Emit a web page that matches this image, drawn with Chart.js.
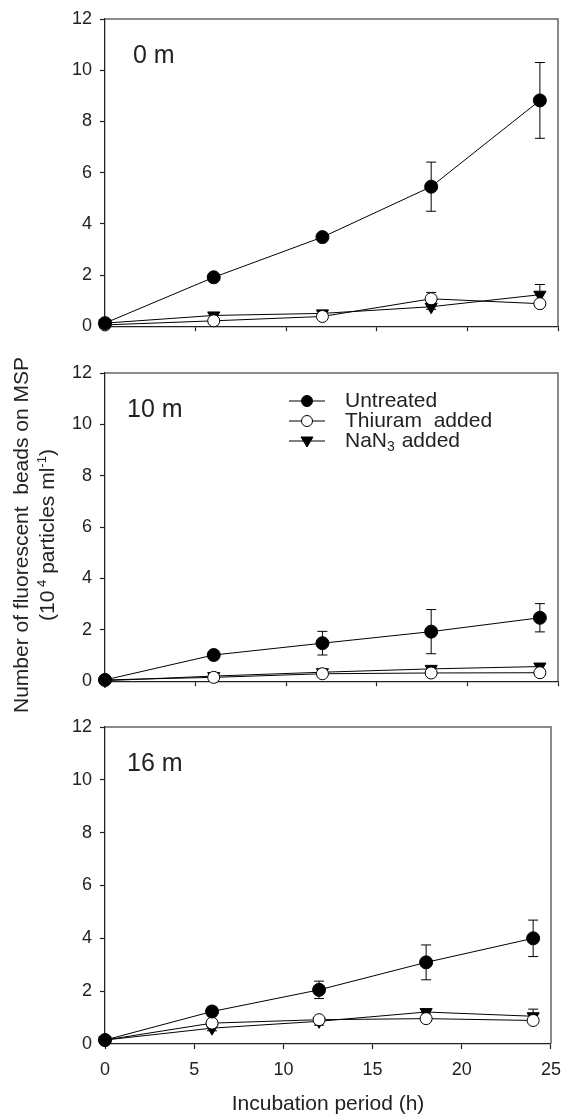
<!DOCTYPE html>
<html lang="en">
<head>
<meta charset="UTF-8">
<title>Fluorescent beads on MSP</title>
<script src="https://cdn.jsdelivr.net/npm/chart.js@4.4.1/dist/chart.umd.min.js"></script>
<style>
  body { margin: 0; background: #fff; font-family: "Liberation Sans", Arial, sans-serif; }
  #wrap { position: relative; width: 571px; height: 1119px; overflow: hidden; }
  canvas { position: absolute; left: 0; }
  #ytitle {
    position: absolute; width: 440px; height: 54px; left: -185px; top: 508px;
    transform: rotate(-90deg); text-align: center;
    font-size: 21px; line-height: 26px; color: #222; white-space: pre;
  }
  #ytitle sup { font-size: 0.62em; vertical-align: super; line-height: 0; }
</style>
</head>
<body>
<div id="wrap">
  <canvas id="c1" width="571" height="345" style="top:0px"></canvas>
  <canvas id="c2" width="571" height="355" style="top:345px"></canvas>
  <canvas id="c3" width="571" height="419" style="top:700px"></canvas>
  <div id="ytitle">Number of fluorescent  beads on MSP
(10<sup> 4</sup> particles ml<sup>-1</sup>)</div>
</div>

<script>
const hours = [0, 6, 12, 18, 24];
const seriesNames = ["Untreated", "Thiuram  added", "NaN3 added"];
const depthLabels = ["0 m", "10 m", "16 m"];
const xTitle = "Incubation period (h)";

// 0 m
const untreated0 = [0.12, 1.91, 3.48, 5.45, 8.82];
const untreated0Err = [0, 0.08, 0.12, 0.96, 1.48];
const thiuram0 = [0.05, 0.21, 0.38, 1.07, 0.88];
const thiuram0Err = [0, 0.05, 0.08, 0.25, 0.1];
const nan0 = [0.12, 0.42, 0.5, 0.76, 1.23];
const nan0Err = [0, 0.1, 0.12, 0.1, 0.4];

// 10 m
const untreated10 = [0.05, 1.02, 1.48, 1.93, 2.47];
const untreated10Err = [0, 0.05, 0.46, 0.86, 0.55];
const thiuram10 = [0.05, 0.15, 0.29, 0.32, 0.33];
const thiuram10Err = [0, 0, 0.05, 0.05, 0.05];
const nan10 = [0.02, 0.2, 0.35, 0.48, 0.57];
const nan10Err = [0, 0.05, 0.05, 0.05, 0.1];

// 16 m
const untreated16 = [0.15, 1.23, 2.05, 3.09, 4.0];
const untreated16Err = [0, 0.17, 0.33, 0.66, 0.69];
const thiuram16 = [0.15, 0.79, 0.92, 0.96, 0.89];
const thiuram16Err = [0, 0.05, 0.08, 0.05, 0.05];
const nan16 = [0.15, 0.6, 0.86, 1.21, 1.05];
const nan16Err = [0, 0.1, 0.15, 0.08, 0.27];

const INK = "#222";

function pts(vals) {
  return hours.map((h, i) => ({ x: h, y: vals[i] }));
}

function makeDatasets(u, uE, t, tE, n, nE) {
  const base = { showLine: true, borderColor: "#000", borderWidth: 1, clip: false,
                 pointBorderColor: "#000", pointBorderWidth: 1 };
  return [
    Object.assign({}, base, { label: seriesNames[0], data: pts(u), errors: uE,
      pointStyle: "circle", pointRadius: 6.5, pointBackgroundColor: "#000" }),
    Object.assign({}, base, { label: seriesNames[1], data: pts(t), errors: tE,
      pointStyle: "circle", pointRadius: 6, pointBackgroundColor: "#fff" }),
    Object.assign({}, base, { label: seriesNames[2], data: pts(n), errors: nE,
      pointStyle: "triangle", pointRotation: 180, pointRadius: 7, pointBackgroundColor: "#000" })
  ];
}

// error bars drawn through the chart scales
const errorBars = {
  id: "errorBars",
  beforeDatasetsDraw(chart) {
    const ctx = chart.ctx, xs = chart.scales.x, ys = chart.scales.y;
    ctx.save();
    ctx.strokeStyle = "#000";
    ctx.lineWidth = 1;
    chart.data.datasets.forEach(ds => {
      ds.data.forEach((p, i) => {
        const e = ds.errors[i];
        if (!e) return;
        const x = xs.getPixelForValue(p.x);
        const y1 = ys.getPixelForValue(p.y + e), y2 = ys.getPixelForValue(p.y - e);
        ctx.beginPath();
        ctx.moveTo(x, y1); ctx.lineTo(x, y2);
        ctx.moveTo(x - 5, y1); ctx.lineTo(x + 5, y1);
        ctx.moveTo(x - 5, y2); ctx.lineTo(x + 5, y2);
        ctx.stroke();
      });
    });
    ctx.restore();
  }
};

// top and right frame + depth label
const frame = {
  id: "frame",
  afterDraw(chart, args, opts) {
    const { ctx, chartArea: a } = chart;
    ctx.save();
    ctx.strokeStyle = "#666";
    ctx.lineWidth = 1.5;
    ctx.beginPath();
    ctx.moveTo(a.left, a.top); ctx.lineTo(a.right, a.top); ctx.lineTo(a.right, a.bottom);
    ctx.stroke();
    ctx.fillStyle = INK;
    ctx.font = "25px 'Liberation Sans', Arial, sans-serif";
    ctx.textBaseline = "middle";
    ctx.fillText(opts.label, opts.labelX, a.top + 37);
    ctx.restore();
  }
};

function marker(ctx, style, x, y) {
  ctx.beginPath();
  if (style === "triangle") {
    ctx.moveTo(x - 6, y - 4); ctx.lineTo(x + 6, y - 4); ctx.lineTo(x, y + 6);
    ctx.closePath();
  } else {
    ctx.arc(x, y, 5.5, 0, Math.PI * 2);
  }
  ctx.fill(); ctx.stroke();
}

const legendBox = {
  id: "legendBox",
  afterDraw(chart, args, opts) {
    if (!opts.show) return;
    const ctx = chart.ctx;
    const rows = [56, 76, 96];
    ctx.save();
    ctx.strokeStyle = "#000";
    ctx.lineWidth = 1;
    chart.data.datasets.forEach((ds, i) => {
      const y = rows[i];
      ctx.beginPath(); ctx.moveTo(289, y); ctx.lineTo(325, y); ctx.stroke();
      ctx.fillStyle = ds.pointBackgroundColor;
      marker(ctx, ds.pointStyle, 307, y);
      ctx.fillStyle = INK;
      ctx.font = "21px 'Liberation Sans', Arial, sans-serif";
      ctx.textBaseline = "middle";
      if (i === 2) {
        ctx.fillText("NaN", 345, y);
        let w = ctx.measureText("NaN").width;
        ctx.font = "14px 'Liberation Sans', Arial, sans-serif";
        ctx.fillText("3", 345 + w, y + 6);
        w += ctx.measureText("3").width + 1;
        ctx.font = "21px 'Liberation Sans', Arial, sans-serif";
        ctx.fillText(" added", 345 + w, y);
      } else {
        ctx.fillText(ds.label, 345, y);
      }
    });
    ctx.restore();
  }
};

const panels = [
  { id: "c1", padTop: 19, axisH: 8, label: depthLabels[0], labelX: 133, legend: false, bottom: false,
    sets: makeDatasets(untreated0, untreated0Err, thiuram0, thiuram0Err, nan0, nan0Err) },
  { id: "c2", padTop: 28, axisH: 11, label: depthLabels[1], labelX: 127, legend: true, bottom: false,
    sets: makeDatasets(untreated10, untreated10Err, thiuram10, thiuram10Err, nan10, nan10Err) },
  { id: "c3", padTop: 27, axisH: 75, label: depthLabels[2], labelX: 127, legend: false, bottom: true,
    sets: makeDatasets(untreated16, untreated16Err, thiuram16, thiuram16Err, nan16, nan16Err) }
];

const tickFont = { family: "'Liberation Sans', Arial, sans-serif", size: 18 };

panels.forEach(p => {
  new Chart(document.getElementById(p.id), {
    type: "scatter",
    data: { datasets: p.sets },
    plugins: [errorBars, frame, legendBox],
    options: {
      responsive: false,
      animation: false,
      devicePixelRatio: 1,
      layout: { padding: { top: p.padTop, right: 13, left: 0, bottom: 0 } },
      plugins: {
        legend: { display: false },
        tooltip: { enabled: false },
        frame: { label: p.label, labelX: p.labelX },
        legendBox: { show: p.legend }
      },
      scales: {
        x: {
          type: "linear", min: 0, max: 25,
          afterFit: s => { s.height = p.axisH; },
          border: { display: true, color: INK, width: 1.3 },
          grid: { drawOnChartArea: false, drawTicks: true, tickLength: 5, tickColor: INK, tickWidth: 1.2 },
          ticks: { stepSize: 5, padding: 10, color: INK, font: tickFont,
                   callback: v => p.bottom ? v : "" },
          title: { display: p.bottom, text: xTitle, color: INK,
                   font: { family: "'Liberation Sans', Arial, sans-serif", size: 21 },
                   padding: { top: 0, bottom: 2 } }
        },
        y: {
          type: "linear", min: 0, max: 12,
          afterFit: s => { s.width = 105; },
          border: { display: true, color: INK, width: 1.3 },
          grid: { drawOnChartArea: false, drawTicks: true, tickLength: 5, tickColor: INK, tickWidth: 1.2 },
          ticks: { stepSize: 2, padding: 8, color: INK, font: tickFont }
        }
      }
    }
  });
});
</script>
</body>
</html>
